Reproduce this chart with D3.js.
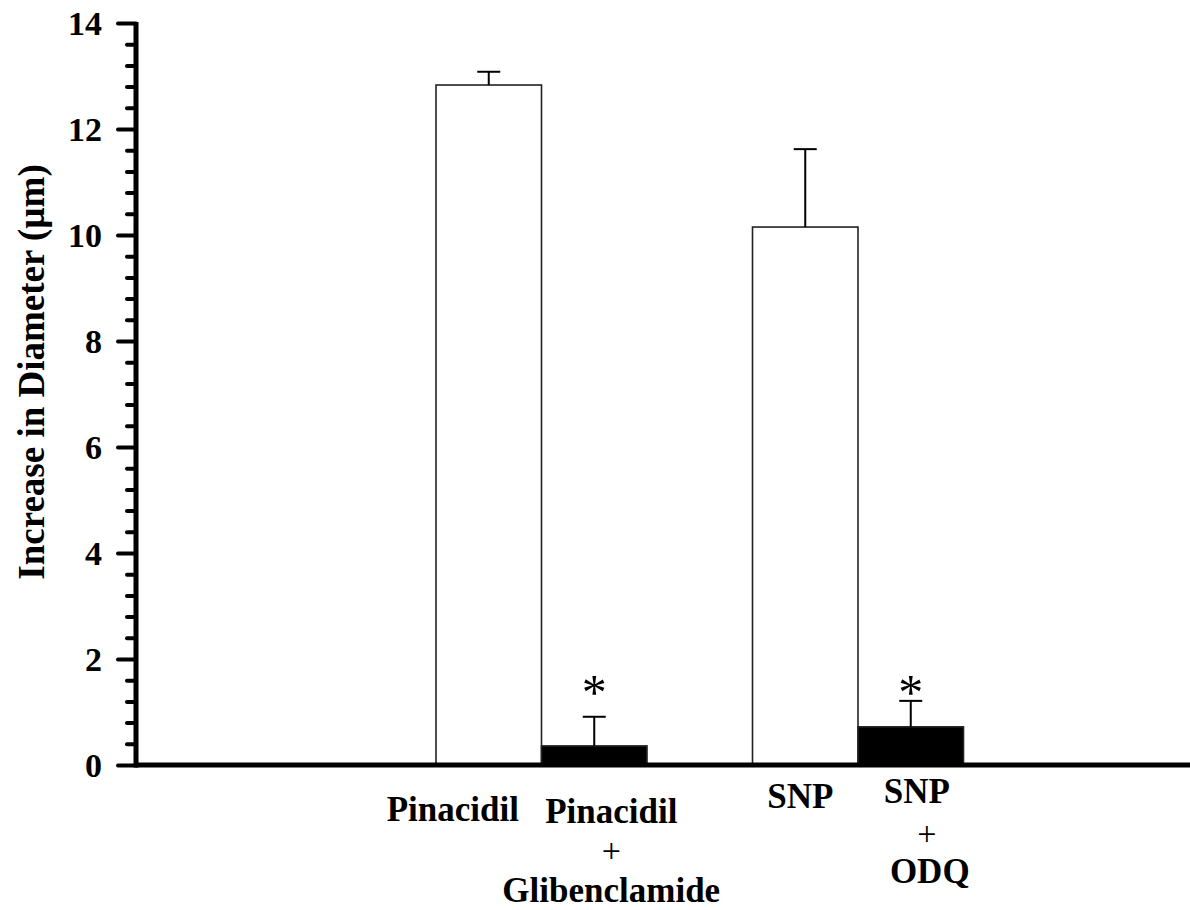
<!DOCTYPE html>
<html>
<head>
<meta charset="utf-8">
<script src="https://cdn.jsdelivr.net/npm/d3@7"></script>
<style>
  body { margin: 0; background: #fff; }
  text { font-family: 'Liberation Serif', 'Times New Roman', serif; fill: #000; }
  .rotulo-eixo { font-size: 34px; font-weight: bold; }
  .titulo-eixo { font-size: 37px; font-weight: bold; }
  .categoria { font-size: 35px; font-weight: bold; }
  .mais { font-size: 34px; font-weight: normal; }
  .asterisco { font-size: 50px; font-weight: normal; }
</style>
</head>
<body>
<svg id="grafico"></svg>
<script>
// dados
const categorias = ['Pinacidil', 'Pinacidil+Glibenclamide', 'SNP', 'SNP+ODQ'];
const medias = [12.83, 0.36, 10.15, 0.72];
const erros = [0.25, 0.55, 1.47, 0.49];
const preenchimentos = ['branco', 'preto', 'branco', 'preto'];
const significativo = [false, true, false, true];
const rotulos = [['Pinacidil'], ['Pinacidil', '+', 'Glibenclamide'], ['SNP'], ['SNP', '+', 'ODQ']];
const ticksY = [0, 2, 4, 6, 8, 10, 12, 14];
const tituloY = 'Increase in Diameter (\u00b5m)';

// posicoes das barras: faixas vazias antes, entre e depois dos grupos
const faixas = ['v0', 'v1', 'v2', categorias[0], categorias[1], 'v3', categorias[2], categorias[3], 'v4', 'v5'];

// deslocamentos manuais dos rotulos (linhas de base e ajuste horizontal)
const ajusteRotulos = [
  { dx: [-36], base: [821] },
  { dx: [17, 17, 17], base: [823, 862, 902] },
  { dx: [-5], base: [808] },
  { dx: [6, 16, 19], base: [803, 845, 883] }
];

const largura = 1190, altura = 910;
const svg = d3.select('#grafico').attr('width', largura).attr('height', altura);

const eixoXpos = 136;
const x = d3.scaleBand().domain(faixas).range([119.5, 1174.5]).padding(0);
const y = d3.scaleLinear().domain([0, 14]).range([765, 23]);

// ticks menores do eixo Y
const ticksMenores = d3.range(0, 14.001, 0.4).filter(v => Math.abs(v / 2 - Math.round(v / 2)) > 1e-6);
svg.append('g')
    .attr('transform', `translate(${eixoXpos}, 0)`)
    .call(d3.axisLeft(y).tickValues(ticksMenores).tickSize(9).tickSizeOuter(0).tickFormat(''))
    .call(g => g.select('.domain').remove())
    .call(g => g.selectAll('line').attr('stroke', '#000').attr('stroke-width', 4).attr('stroke-linecap', 'round'));

// eixo Y principal
const eixoY = svg.append('g')
    .attr('transform', `translate(${eixoXpos}, 0)`)
    .call(d3.axisLeft(y).tickValues(ticksY).tickSize(18).tickSizeOuter(0).tickPadding(16).tickFormat(d3.format('d')));
eixoY.select('.domain').remove();
eixoY.selectAll('line').attr('stroke', '#000').attr('stroke-width', 4).attr('stroke-linecap', 'round');
eixoY.selectAll('text').attr('class', 'rotulo-eixo').attr('font-family', null).attr('font-size', null)
    .attr('dy', '0.34em');

svg.append('line')
    .attr('x1', eixoXpos).attr('x2', eixoXpos)
    .attr('y1', y(14) - 1).attr('y2', y(0) + 2.5)
    .attr('stroke', '#000').attr('stroke-width', 5);

// titulo do eixo Y
svg.append('text')
    .attr('class', 'titulo-eixo')
    .attr('text-anchor', 'middle')
    .attr('transform', `translate(44, 372) rotate(-90)`)
    .text(tituloY);

// barras
const dados = categorias.map((c, i) => ({ categoria: c, media: medias[i], erro: erros[i], cor: preenchimentos[i], sig: significativo[i] }));

svg.selectAll('.barra').data(dados).enter().append('rect')
    .attr('class', 'barra')
    .attr('x', d => x(d.categoria))
    .attr('width', x.bandwidth())
    .attr('y', d => y(d.media))
    .attr('height', d => y(0) - y(d.media))
    .attr('fill', d => d.cor === 'preto' ? '#000' : '#fff')
    .attr('stroke', '#222')
    .attr('stroke-width', 1.6);

// barras de erro (somente para cima)
const centro = d => x(d.categoria) + x.bandwidth() / 2;
svg.selectAll('.erro').data(dados).enter().append('line')
    .attr('class', 'erro')
    .attr('x1', centro).attr('x2', centro)
    .attr('y1', d => y(d.media)).attr('y2', d => y(d.media + d.erro))
    .attr('stroke', '#000').attr('stroke-width', 2);
svg.selectAll('.tampa').data(dados).enter().append('line')
    .attr('class', 'tampa')
    .attr('x1', d => centro(d) - 11.5).attr('x2', d => centro(d) + 11.5)
    .attr('y1', d => y(d.media + d.erro)).attr('y2', d => y(d.media + d.erro))
    .attr('stroke', '#000').attr('stroke-width', 2);

// asteriscos de significancia
svg.selectAll('.asterisco').data(dados.filter(d => d.sig)).enter().append('text')
    .attr('class', 'asterisco')
    .attr('text-anchor', 'middle')
    .attr('x', centro)
    .attr('y', y(1.5) + 23)
    .text('*');

// eixo X (linha de base)
svg.append('line')
    .attr('x1', eixoXpos).attr('x2', largura)
    .attr('y1', y(0)).attr('y2', y(0))
    .attr('stroke', '#000').attr('stroke-width', 5);

// rotulos das categorias
dados.forEach((d, i) => {
  rotulos[i].forEach((linha, j) => {
    svg.append('text')
        .attr('class', linha === '+' ? 'mais' : 'categoria')
        .attr('text-anchor', 'middle')
        .attr('x', centro(d) + ajusteRotulos[i].dx[j])
        .attr('y', ajusteRotulos[i].base[j])
        .text(linha);
  });
});
</script>
</body>
</html>
